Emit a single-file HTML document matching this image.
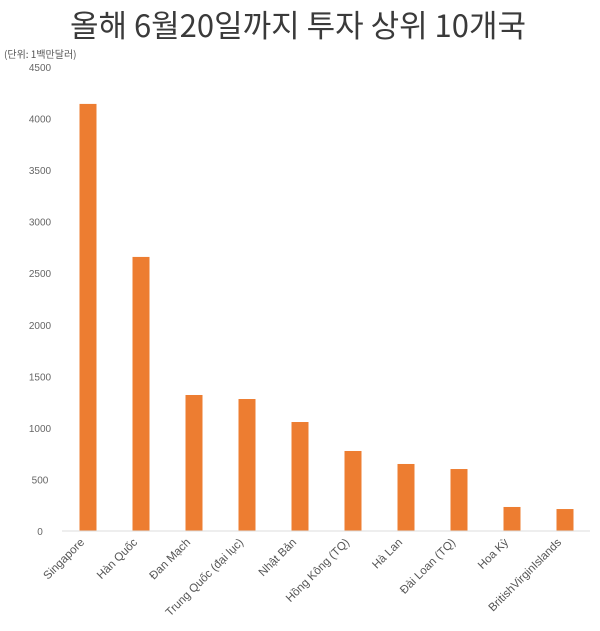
<!DOCTYPE html>
<html><head><meta charset="utf-8"><style>
body{margin:0;background:#fff;}
svg{display:block;font-family:"Liberation Sans","Noto Sans CJK KR",sans-serif;}
</style></head><body>
<svg id="chart" width="600" height="631">
<text x="298" y="37" text-anchor="middle" font-size="31" fill="#3a3a3a" font-family="'Noto Sans CJK KR',sans-serif">올해 6월20일까지 투자 상위 10개국</text>
<text x="4" y="58" font-size="10" fill="#555" font-family="'Noto Sans CJK KR',sans-serif">(단위: 1백만달러)</text>
<g id="yaxis"></g><g id="bars"></g><g id="xlabels"></g>
<line x1="62" x2="590" y1="531" y2="531" stroke="#ddd"/>
</svg>
<script>
const categories=["Singapore","Hàn Quốc","Đan Mạch","Trung Quốc (đại lục)","Nhật Bản","Hồng Kông (TQ)","Hà Lan","Đài Loan (TQ)","Hoa Kỳ","BritishVirginIslands"];
const values=[4142,2658,1319,1280,1057,776,650,601,233,213];
const yTicks=[0,500,1000,1500,2000,2500,3000,3500,4000,4500];
const NS="http://www.w3.org/2000/svg";
const y0=531,yMax=4500,yTop=67;
function y(v){return y0-(v/yMax)*(y0-yTop);}
function x(i){return 88+i*53;}
const ya=document.getElementById('yaxis'),bg=document.getElementById('bars'),xl=document.getElementById('xlabels');
yTicks.forEach(t=>{const e=document.createElementNS(NS,'text');


e.setAttribute('x',40);e.setAttribute('y',y(t)+4);e.setAttribute('text-anchor','middle');e.setAttribute('font-size','10');e.setAttribute('fill','#666');e.textContent=t;ya.appendChild(e);});
values.forEach((v,i)=>{const r=document.createElementNS(NS,'rect');


r.setAttribute('x',x(i)-8.5);r.setAttribute('width',17);r.setAttribute('y',y(v));r.setAttribute('height',y0-y(v));r.setAttribute('fill','#ed7d31');bg.appendChild(r);
const t=document.createElementNS(NS,'text');


const lx=x(i)-3,ly=543;
t.setAttribute('x',lx);t.setAttribute('y',ly);t.setAttribute('text-anchor','end');t.setAttribute('font-size','11.5');t.setAttribute('fill','#555');
t.setAttribute('transform','rotate(-45 '+lx+' '+ly+')');t.textContent=categories[i];xl.appendChild(t);});
</script>
</body></html>
